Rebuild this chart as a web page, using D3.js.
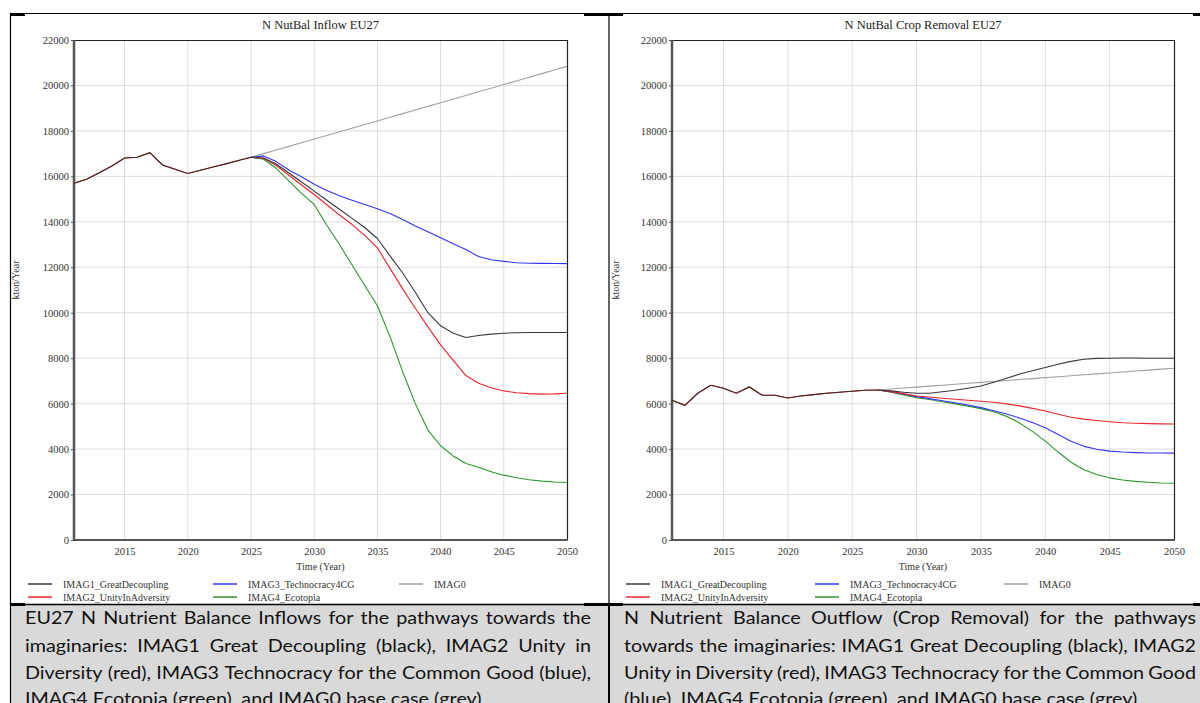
<!DOCTYPE html>
<html>
<head>
<meta charset="utf-8">
<script src="https://cdn.jsdelivr.net/npm/d3@7"></script>
<style>
  html, body { margin: 0; padding: 0; background: #fff; }
  svg { display: block; }
</style>
</head>
<body>
<svg id="root" width="1200" height="703"></svg>
<script>
// ---------------- DATA ----------------
const historyYearsInflow = [2011,2012,2013,2014,2015,2016,2017,2018,2019,2020,2021,2022,2023,2024,2025];
const futureYearsInflow = [2026,2027,2028,2029,2030,2031,2032,2033,2034,2035,2036,2037,2038,2039,2040,2041,2042,2043,2044,2045,2046,2047,2048,2049,2050];
const inflowHistory = [15700,15870,16160,16460,16810,16840,17040,16500,16310,16130,16270,16410,16550,16700,16840];
const inflowIMAG1 = [16810,16544,16150,15750,15350,14950,14550,14150,13750,13265,12500,11750,10900,10000,9426,9100,8912,9000,9060,9100,9120,9130,9130,9130,9130];
const inflowIMAG2 = [16800,16480,16050,15620,15200,14750,14300,13880,13400,12853,11950,11050,10200,9380,8588,7900,7235,6900,6700,6560,6480,6440,6420,6430,6456];
const inflowIMAG3 = [16900,16650,16280,15980,15650,15380,15150,14950,14760,14574,14368,14100,13820,13560,13294,13030,12780,12470,12330,12260,12200,12180,12170,12165,12160];
const inflowIMAG4 = [16750,16354,15800,15250,14765,13850,13000,12100,11200,10309,8950,7400,6000,4838,4147,3700,3368,3200,3000,2853,2740,2650,2590,2550,2530];
const inflowIMAG0 = [17000,17160,17320,17480,17640,17800,17960,18120,18280,18440,18600,18760,18920,19080,19240,19400,19560,19720,19880,20040,20200,20360,20520,20680,20840];

const historyYearsRemoval = [2011,2012,2013,2014,2015,2016,2017,2018,2019,2020,2021,2022,2023,2024,2025,2026,2027];
const futureYearsRemoval = [2028,2029,2030,2031,2032,2033,2034,2035,2036,2037,2038,2039,2040,2041,2042,2043,2044,2045,2046,2047,2048,2049,2050];
const removalHistory = [6147,5926,6456,6809,6676,6456,6735,6368,6368,6250,6338,6397,6456,6500,6544,6588,6603];
const removalIMAG1 = [6560,6500,6456,6460,6520,6590,6680,6779,6940,7120,7300,7450,7588,7730,7860,7950,7990,8000,8010,8010,8000,8000,8000];
const removalIMAG2 = [6530,6440,6338,6290,6240,6190,6150,6103,6060,5990,5900,5790,5676,5530,5400,5320,5260,5206,5160,5140,5120,5110,5103];
const removalIMAG3 = [6520,6410,6309,6220,6130,6040,5940,5824,5690,5540,5370,5170,4941,4640,4350,4120,3990,3912,3870,3845,3830,3825,3824];
const removalIMAG4 = [6500,6380,6265,6180,6080,5990,5890,5779,5640,5440,5150,4780,4353,3870,3420,3090,2880,2735,2640,2580,2540,2510,2500];
const removalIMAG0 = [6645,6687,6728,6770,6811,6853,6894,6936,6977,7019,7060,7102,7143,7185,7226,7268,7309,7351,7392,7434,7475,7517,7559];

const seriesNames = ["IMAG1_GreatDecoupling","IMAG2_UnityInAdversity","IMAG3_Technocracy4CG","IMAG4_Ecotopia","IMAG0"];
const seriesColors = ["#383838","#e8262a","#3434f0","#2c962c","#a0a0a0"];
const xTicks = [2015,2020,2025,2030,2035,2040,2045,2050];
const yTicks = [0,2000,4000,6000,8000,10000,12000,14000,16000,18000,20000,22000];
const xDomain = [2011, 2050];
const yDomain = [0, 22000];

const titles = ["N NutBal Inflow EU27", "N NutBal Crop Removal EU27"];
const xAxisTitle = "Time (Year)";
const yAxisTitle = "kton/Year";

const captionLeft = [
  "EU27 N Nutrient Balance Inflows for the pathways towards the",
  "imaginaries: IMAG1 Great Decoupling (black), IMAG2 Unity in",
  "Diversity (red), IMAG3 Technocracy for the Common Good (blue),",
  "IMAG4 Ecotopia (green), and IMAG0 base case (grey)"
];
const captionRight = [
  "N Nutrient Balance Outflow (Crop Removal) for the pathways",
  "towards the imaginaries: IMAG1 Great Decoupling (black), IMAG2",
  "Unity in Diversity (red), IMAG3 Technocracy for the Common Good",
  "(blue), IMAG4 Ecotopia (green), and IMAG0 base case (grey)"
];

// ---------------- DRAW ----------------
const svg = d3.select("#root");
svg.append("rect").attr("width",1200).attr("height",703).attr("fill","#fff");

// caption background
svg.append("rect").attr("x",11).attr("y",605).attr("width",1189).attr("height",98).attr("fill","#d9d9d9");

// table borders
const bc = "#000";
svg.append("line").attr("x1",10).attr("x2",1200).attr("y1",13.5).attr("y2",13.5).attr("stroke",bc).attr("stroke-width",1.2);
svg.append("line").attr("x1",10.5).attr("x2",10.5).attr("y1",13).attr("y2",703).attr("stroke",bc).attr("stroke-width",1.2);
svg.append("line").attr("x1",609).attr("x2",609).attr("y1",13).attr("y2",605).attr("stroke",bc).attr("stroke-width",1.2);
svg.append("line").attr("x1",609).attr("x2",609).attr("y1",605).attr("y2",703).attr("stroke",bc).attr("stroke-width",2);
svg.append("line").attr("x1",10).attr("x2",1200).attr("y1",604.5).attr("y2",604.5).attr("stroke",bc).attr("stroke-width",1.5);
[[10,25,14.5],[584,623,14.5],[1193,1200,14.5],[10,25,604.5],[584,623,604.5],[1193,1200,604.5]].forEach(s=>{
  svg.append("line").attr("x1",s[0]).attr("x2",s[1]).attr("y1",s[2]).attr("y2",s[2]).attr("stroke",bc).attr("stroke-width",3);
});

const serif = "Liberation Serif, Times New Roman, serif";

function drawPanel(cfg) {
  const x = d3.scaleLinear().domain(xDomain).range([cfg.left, cfg.right]);
  const y = d3.scaleLinear().domain(yDomain).range([540, 40]);
  const g = svg.append("g");

  // grid
  g.append("g").selectAll("line").data(xTicks.filter(t=>t<2050)).join("line")
    .attr("x1",d=>x(d)).attr("x2",d=>x(d)).attr("y1",40).attr("y2",540)
    .attr("stroke","#dcdcdc").attr("stroke-width",1);
  g.append("g").selectAll("line").data(yTicks.filter(t=>t>0 && t<22000)).join("line")
    .attr("x1",cfg.left).attr("x2",cfg.right).attr("y1",d=>y(d)).attr("y2",d=>y(d))
    .attr("stroke","#dcdcdc").attr("stroke-width",1);

  // axes
  const ya = g.append("g").attr("transform",`translate(${cfg.left},0)`)
    .call(d3.axisLeft(y).tickValues(yTicks).tickFormat(d3.format("d")).tickSize(3).tickPadding(2));
  ya.attr("font-family",serif).attr("font-size",10.5);
  ya.select(".domain").remove();
  ya.selectAll("line").attr("stroke","#555");
  ya.selectAll("text").style("font-family",serif).style("font-size","10.5px").attr("fill","#333");

  const xa = g.append("g").attr("transform",`translate(0,540)`)
    .call(d3.axisBottom(x).tickValues(xTicks).tickFormat(d3.format("d")).tickSize(0).tickPadding(8));
  xa.attr("font-family",serif).attr("font-size",10.5);
  xa.select(".domain").remove();
  xa.selectAll("text").style("font-family",serif).style("font-size","10.5px").attr("fill","#333");

  // frame
  g.append("line").attr("x1",cfg.left).attr("x2",cfg.right).attr("y1",40.5).attr("y2",40.5).attr("stroke","#222").attr("stroke-width",1.2);
  g.append("line").attr("x1",cfg.right+0.5).attr("x2",cfg.right+0.5).attr("y1",40).attr("y2",540).attr("stroke","#222").attr("stroke-width",1.2);
  g.append("line").attr("x1",cfg.left-1).attr("x2",cfg.right+1).attr("y1",540).attr("y2",540).attr("stroke","#555").attr("stroke-width",2);
  g.append("line").attr("x1",cfg.left).attr("x2",cfg.left).attr("y1",40).attr("y2",541).attr("stroke","#555").attr("stroke-width",2.5);

  // lines
  const line = d3.line().x(d=>x(d[0])).y(d=>y(d[1]));
  const hist = cfg.histYears.map((yr,i)=>[yr,cfg.hist[i]]);
  const lastHist = hist[hist.length-1];
  const order = [4,3,2,1,0];
  order.forEach(si=>{
    const fut = cfg.futYears.map((yr,i)=>[yr,cfg.series[si][i]]);
    g.append("path").datum([lastHist].concat(fut)).attr("d",line)
      .attr("fill","none").attr("stroke",seriesColors[si]).attr("stroke-width",1.1)
      .attr("stroke-linejoin","round");
  });
  // shared history (red beneath, black on top)
  g.append("path").datum(hist).attr("d",line).attr("fill","none").attr("stroke",seriesColors[1]).attr("stroke-width",1.1);
  g.append("path").datum(hist).attr("d",line).attr("fill","none").attr("stroke","#3a2a2a").attr("stroke-width",1.1);

  // titles
  const cx = (cfg.left + cfg.right)/2;
  g.append("text").attr("x",cx).attr("y",29).attr("text-anchor","middle")
    .style("font-family",serif).style("font-size","12.5px").attr("fill","#222").text(cfg.title);
  g.append("text").attr("x",cx).attr("y",570).attr("text-anchor","middle")
    .style("font-family",serif).style("font-size","10px").attr("fill","#333").text(xAxisTitle);
  g.append("text").attr("transform",`translate(${cfg.ylabX},280) rotate(-90)`).attr("text-anchor","middle")
    .style("font-family",serif).style("font-size","10px").attr("fill","#333").text(yAxisTitle);

  // legend
  const legPos = [[0,0],[0,1],[1,0],[1,1],[2,0]];
  seriesNames.forEach((nm,i)=>{
    const col = legPos[i][0], row = legPos[i][1];
    const lx = cfg.legX[col], ly = 584 + row*13;
    g.append("line").attr("x1",lx).attr("x2",lx+24).attr("y1",ly).attr("y2",ly)
      .attr("stroke",seriesColors[i]).attr("stroke-width",1.5);
    g.append("text").attr("x",lx+35).attr("y",ly+3.5)
      .style("font-family",serif).style("font-size","10px").attr("fill","#333").text(nm);
  });
}

drawPanel({left:74, right:567, ylabX:19, title:titles[0], legX:[28,213,399],
  histYears:historyYearsInflow, hist:inflowHistory, futYears:futureYearsInflow,
  series:[inflowIMAG1,inflowIMAG2,inflowIMAG3,inflowIMAG4,inflowIMAG0]});
drawPanel({left:672, right:1174, ylabX:619, title:titles[1], legX:[626,815,1004],
  histYears:historyYearsRemoval, hist:removalHistory, futYears:futureYearsRemoval,
  series:[removalIMAG1,removalIMAG2,removalIMAG3,removalIMAG4,removalIMAG0]});

// ---------------- CAPTIONS ----------------
const capFont = "Lato, Open Sans, Noto Sans, sans-serif";
const capSize = 18;
const baselines = [624.5, 652, 679.5, 705];

// horizontal glyph scale: the tight third line of the left caption fills the cell width
const probe = svg.append("text").style("font-family",capFont).style("font-size",capSize+"px").text(captionLeft[2]);
const natural = probe.node().getComputedTextLength();
probe.remove();
const sx = 562 / natural;

function caption(lines, x0, x1) {
  const W = (x1 - x0) / sx;
  const g = svg.append("g").attr("transform",`translate(${x0},0) scale(${sx},1)`);
  lines.forEach((ln,i)=>{
    const by = baselines[i];
    if (i === lines.length-1) {
      g.append("text").attr("x",0).attr("y",by).style("font-family",capFont)
        .style("font-size",capSize+"px").attr("fill","#111").text(ln);
      return;
    }
    const words = ln.split(" ");
    const nodes = words.map(w=>g.append("text").attr("y",by).style("font-family",capFont)
      .style("font-size",capSize+"px").attr("fill","#111").text(w));
    const lens = nodes.map(n=>n.node().getComputedTextLength());
    const total = d3.sum(lens);
    const gap = (W - total) / (words.length - 1);
    let cx = 0;
    nodes.forEach((n,k)=>{ n.attr("x",cx); cx += lens[k] + gap; });
  });
}
caption(captionLeft, 25, 591);
caption(captionRight, 624, 1196);
</script>
</body>
</html>
